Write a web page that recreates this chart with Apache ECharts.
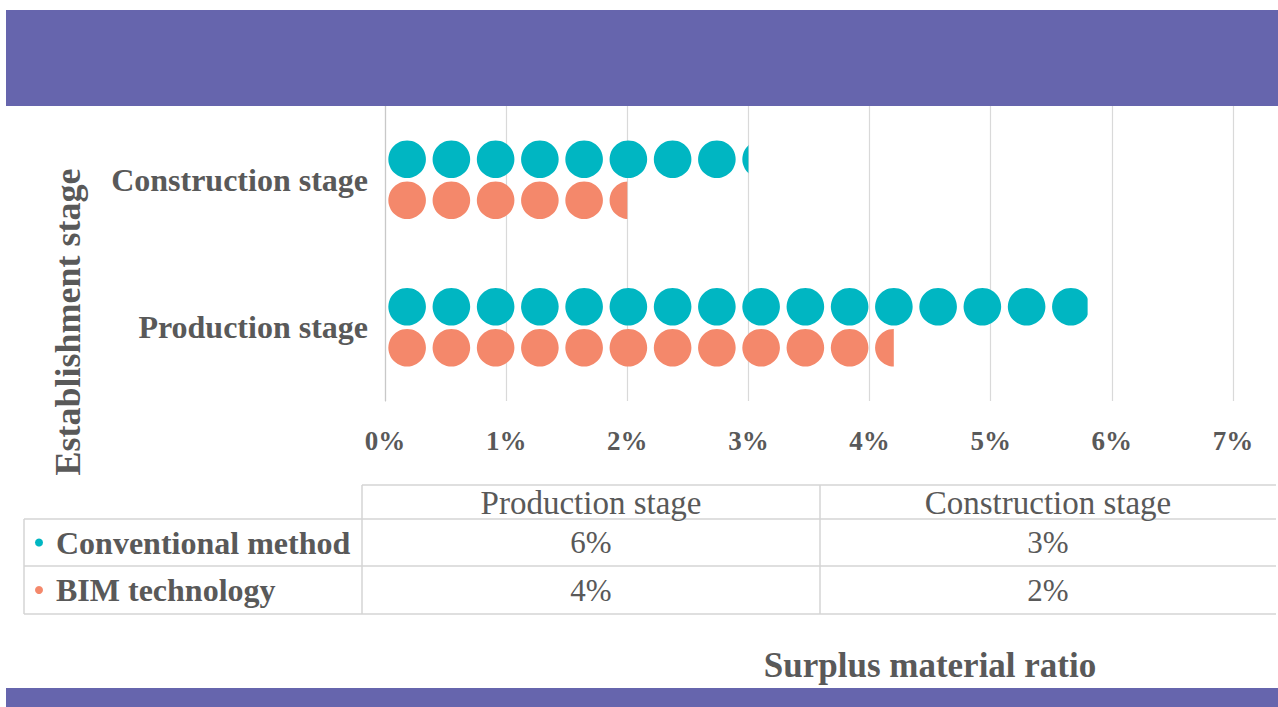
<!DOCTYPE html>
<html>
<head>
<meta charset="utf-8">
<script src="https://cdn.jsdelivr.net/npm/echarts@6/dist/echarts.min.js"></script>
<style>
  html, body { margin: 0; padding: 0; background: #ffffff; }
  #chart { width: 1278px; height: 707px; }
</style>
</head>
<body>
<div id="chart"></div>
<script>
// Stages on the category axis (bottom to top) and in the table columns
const stages = ['Production stage', 'Construction stage'];
// Methods compared (table rows / series)
const methods = ['Conventional method', 'BIM technology'];
// Surplus material ratio, percent, per stage
const conventionalValues = [5.8, 3.0];
const bimValues = [4.2, 2.0];
// Value axis ticks, percent
const tickValues = [0, 1, 2, 3, 4, 5, 6, 7];

const seriesValues = [conventionalValues, bimValues];
const colors = ['#00B6C2', '#F4886B'];
const textColor = '#595959';
const serif = '"Liberation Serif", "Times New Roman", serif';
const lineColor = '#D4D4D4';
const purple = '#6665AD';

const fmtPct = v => Math.round(v) + '%';

// ---- data table under the chart ----
const tbl = {
  left: 24, labelRight: 362, colDiv: 820, right: 1276,
  headTop: 485, rowTops: [519, 566], bottom: 614
};
const colCenters = [(tbl.labelRight + tbl.colDiv) / 2, (tbl.colDiv + tbl.right) / 2];
const tableGraphics = [];
function hLine(x1, x2, y) {
  tableGraphics.push({ type: 'line', shape: { x1, y1: y, x2, y2: y },
    style: { stroke: lineColor, lineWidth: 1.5 }, silent: true });
}
function vLine(x, y1, y2) {
  tableGraphics.push({ type: 'line', shape: { x1: x, y1, x2: x, y2 },
    style: { stroke: lineColor, lineWidth: 1.5 }, silent: true });
}
hLine(tbl.labelRight, tbl.right, tbl.headTop);
tbl.rowTops.forEach(y => hLine(tbl.left, tbl.right, y));
hLine(tbl.left, tbl.right, tbl.bottom);
vLine(tbl.left, tbl.rowTops[0], tbl.bottom);
vLine(tbl.labelRight, tbl.headTop, tbl.bottom);
vLine(tbl.colDiv, tbl.headTop, tbl.bottom);

stages.forEach((s, i) => {
  tableGraphics.push({ type: 'text', x: colCenters[i], y: (tbl.headTop + tbl.rowTops[0]) / 2 + 1,
    style: { text: s, fill: textColor, font: '33px ' + serif, textAlign: 'center', textVerticalAlign: 'middle' } });
});
const rowBounds = [[tbl.rowTops[0], tbl.rowTops[1]], [tbl.rowTops[1], tbl.bottom]];
methods.forEach((m, r) => {
  const cy = (rowBounds[r][0] + rowBounds[r][1]) / 2;
  tableGraphics.push({ type: 'circle', shape: { cx: 39, cy: cy, r: 4 }, style: { fill: colors[r] } });
  tableGraphics.push({ type: 'text', x: 56, y: cy,
    style: { text: m, fill: textColor, font: 'bold 32px ' + serif, textAlign: 'left', textVerticalAlign: 'middle' } });
  seriesValues[r].forEach((v, c) => {
    tableGraphics.push({ type: 'text', x: colCenters[c], y: cy,
      style: { text: fmtPct(v), fill: textColor, font: '31px ' + serif, textAlign: 'center', textVerticalAlign: 'middle' } });
  });
});

const chart = echarts.init(document.getElementById('chart'), null, { renderer: 'svg' });

const option = {
  animation: false,
  backgroundColor: '#ffffff',
  grid: { left: 385, right: 45, top: 106, bottom: 306, containLabel: false },
  xAxis: {
    type: 'value',
    min: tickValues[0],
    max: tickValues[tickValues.length - 1],
    interval: 1,
    axisLine: { show: false },
    axisTick: { show: false },
    splitLine: { show: true, lineStyle: { color: '#D9D9D9', width: 1.2 } },
    axisLabel: {
      margin: 26, color: textColor, fontFamily: serif, fontWeight: 'bold', fontSize: 27,
      formatter: v => v + '%'
    }
  },
  yAxis: {
    type: 'category',
    data: stages,
    axisLine: { show: true, lineStyle: { color: '#C8C8C8', width: 1.2 } },
    axisTick: { show: false },
    splitLine: { show: false },
    axisLabel: { margin: 17, color: textColor, fontFamily: serif, fontWeight: 'bold', fontSize: 32 }
  },
  series: methods.map((m, i) => ({
    type: 'pictorialBar',
    name: m,
    data: seriesValues[i],
    symbol: 'circle',
    symbolSize: [37.5, 37.5],
    symbolRepeat: true,
    symbolClip: true,
    symbolMargin: '4!',
    symbolBoundingData: 6.94,
    symbolPosition: 'start',
    barWidth: 41,
    barGap: '0%',
    itemStyle: { color: colors[i] },
    z: 3
  })),
  graphic: [
    { type: 'rect', shape: { x: 6, y: 10, width: 1272, height: 96 }, style: { fill: purple }, z: 10 },
    { type: 'rect', shape: { x: 6, y: 688, width: 1272, height: 19 }, style: { fill: purple }, z: 10 },
    { type: 'text', x: 68, y: 322, rotation: Math.PI / 2,
      style: { text: 'Establishment stage', fill: textColor, font: 'bold 36px ' + serif,
               textAlign: 'center', textVerticalAlign: 'middle' } },
    { type: 'text', x: 930, y: 665,
      style: { text: 'Surplus material ratio', fill: textColor, font: 'bold 35px ' + serif,
               textAlign: 'center', textVerticalAlign: 'middle' } }
  ].concat(tableGraphics)
};

chart.setOption(option);
</script>
</body>
</html>
